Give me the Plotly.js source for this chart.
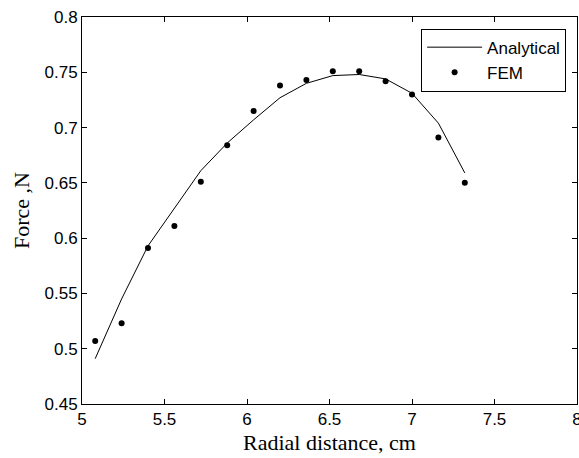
<!DOCTYPE html>
<html>
<head>
<meta charset="utf-8">
<script src="https://cdn.plot.ly/plotly-3.0.1.min.js"></script>
<style>html,body{margin:0;padding:0;background:#fff;}#chart{width:579px;height:458px;}</style>
</head>
<body>
<div id="chart"></div>
<script>
const radialDistance = [5.08, 5.24, 5.40, 5.56, 5.72, 5.88, 6.04, 6.20, 6.36, 6.52, 6.68, 6.84, 7.00, 7.16, 7.32];
const analyticalForce = [0.491, 0.545, 0.593, 0.627, 0.661, 0.686, 0.707, 0.727, 0.740, 0.747, 0.748, 0.744, 0.731, 0.704, 0.659];
const femForce = [0.507, 0.523, 0.591, 0.611, 0.651, 0.684, 0.715, 0.738, 0.743, 0.751, 0.751, 0.742, 0.730, 0.691, 0.650];
const xTicks = [5, 5.5, 6, 6.5, 7, 7.5, 8];
const yTicks = [0.45, 0.5, 0.55, 0.6, 0.65, 0.7, 0.75, 0.8];

const traces = [
  {x: radialDistance, y: analyticalForce, type: 'scatter', mode: 'lines', name: 'Analytical',
   line: {color: '#000', width: 1}},
  {x: radialDistance, y: femForce, type: 'scatter', mode: 'markers', name: 'FEM',
   marker: {color: '#000', size: 6}}
];

const axisCommon = {
  showgrid: false, zeroline: false, showline: true, linecolor: '#000', linewidth: 1,
  mirror: 'ticks', ticks: 'inside', ticklen: 5, tickcolor: '#000', tickwidth: 1,
  ticklabeloverflow: 'allow',
  tickfont: {family: 'Liberation Sans, Arial, sans-serif', size: 17, color: '#000'}
};

const layout = {
  width: 579, height: 458,
  margin: {l: 82, r: 2, t: 17, b: 54},
  paper_bgcolor: '#fff', plot_bgcolor: '#fff',
  showlegend: true,
  legend: {x: 0.978, y: 0.97, xanchor: 'right', yanchor: 'top',
    bordercolor: '#000', borderwidth: 1, bgcolor: '#fff', itemwidth: 55,
    font: {family: 'Liberation Sans, Arial, sans-serif', size: 17, color: '#000'}},
  xaxis: Object.assign({}, axisCommon, {
    range: [5, 8], tickvals: xTicks, ticktext: xTicks.map(String),
    title: {text: 'Radial distance, cm', font: {family: 'Liberation Serif, Times New Roman, serif', size: 22, color: '#000'}, standoff: 6}
  }),
  yaxis: Object.assign({}, axisCommon, {
    range: [0.45, 0.8], tickvals: yTicks, ticktext: yTicks.map(String),
    title: {text: 'Force ,N', font: {family: 'Liberation Serif, Times New Roman, serif', size: 22, color: '#000'}, standoff: 8}
  })
};

Plotly.newPlot('chart', traces, layout, {displayModeBar: false, staticPlot: true});
</script>
</body>
</html>
